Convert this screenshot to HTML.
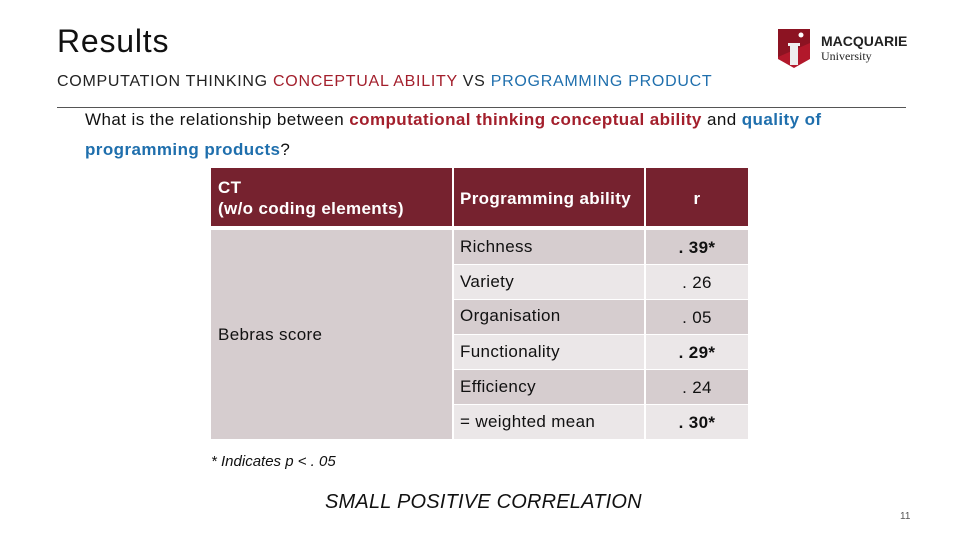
<!DOCTYPE html>
<html><head><meta charset="utf-8"><style>
body{margin:0;width:960px;height:540px;background:#fff;font-family:"Liberation Sans",sans-serif;position:relative;overflow:hidden}
.a{position:absolute;white-space:nowrap}
.c{position:absolute;box-sizing:border-box;font-size:17px;color:#111;letter-spacing:0.35px;white-space:nowrap}
.h{background:#76222f;color:#fff;font-weight:bold}
.d{background:#d6cdcf}.l{background:#ebe7e8}
.red{color:#a31f2c}.blue{color:#1f6fad}
</style></head><body>
<div class="a" style="left:57px;top:23px;font-size:32px;color:#111;letter-spacing:0.8px">Results</div>
<div class="a" style="left:57px;top:73px;font-size:16px;color:#222;letter-spacing:0.72px">COMPUTATION THINKING <span class="red">CONCEPTUAL ABILITY</span> VS <span class="blue">PROGRAMMING PRODUCT</span></div>
<div class="a" style="left:778px;top:29px;width:130px;height:40px">
<svg width="130" height="40" viewBox="0 0 130 40"><path d="M0 0h32v30l-16 9l-16-9z" fill="#b2182b"/><path d="M0 0h32v14L0 28z" fill="#8c1322"/><rect x="12" y="16" width="8" height="20" fill="#eee"/><rect x="10" y="14" width="12" height="3" fill="#eee"/><circle cx="23" cy="6" r="2.5" fill="#fff"/></svg>
<div class="a" style="left:43px;top:4px;font-size:14px;font-weight:bold;color:#222">MACQUARIE</div>
<div class="a" style="left:43px;top:20px;font-size:12px;font-family:'Liberation Serif',serif;color:#222">University</div>
</div>
<div class="a" style="left:57px;top:107px;width:849px;height:1px;background:#555"></div>
<div class="a" style="left:85px;top:105px;font-size:17px;color:#111;line-height:30px;letter-spacing:0.42px">What is the relationship between <b class="red">computational thinking conceptual ability</b> and <b class="blue">quality of</b><br><b class="blue">programming products</b>?</div>
<div>
<div class="c h" style="left:211px;top:168px;width:241px;height:58px;padding:9px 7px;line-height:21px">CT<br>(w/o coding elements)</div>
<div class="c h" style="left:454px;top:168px;width:190px;height:58px;padding:21px 6px">Programming ability</div>
<div class="c h" style="left:646px;top:168px;width:102px;height:58px;padding:21px 0;text-align:center">r</div>
<div class="c d" style="left:211px;top:230px;width:241px;height:209px;padding:95px 7px">Bebras score</div>
<div id="rows"></div>
</div>
<div class="a" style="left:211px;top:453px;font-size:15px;font-style:italic;color:#111">* Indicates p &lt; . 05</div>
<div class="a" style="left:325px;top:491px;font-size:20px;font-style:italic;color:#111;letter-spacing:0.2px">SMALL POSITIVE CORRELATION</div>
<div class="a" style="left:900px;top:511px;font-size:10px;color:#555">11</div>
<script>
const labels=["Richness","Variety","Organisation","Functionality","Efficiency","= weighted mean"];
const values=[". 39*",". 26",". 05",". 29*",". 24",". 30*"];
const sig=[true,false,false,true,false,true];
const tops=[230,265,300,335,370,405];
const root=document.getElementById('rows');
labels.forEach((t,i)=>{
 const cls=i%2?'l':'d';
 const a=document.createElement('div');
 a.className='c '+cls;
 a.style.cssText=`left:454px;top:${tops[i]}px;width:190px;height:34px;padding:7px 6px;${i==2?'padding-top:6px':''}`;
 a.textContent=t;
 
 
 root.appendChild(a);
 const b=document.createElement('div');
 b.className='c '+cls;
 b.style.cssText=`left:646px;top:${tops[i]}px;width:102px;height:34px;padding:8px 0;text-align:center;font-weight:${sig[i]?'bold':'normal'}`;
 b.textContent=values[i];
 
 
 root.appendChild(b);
});
</script>
</body></html>
